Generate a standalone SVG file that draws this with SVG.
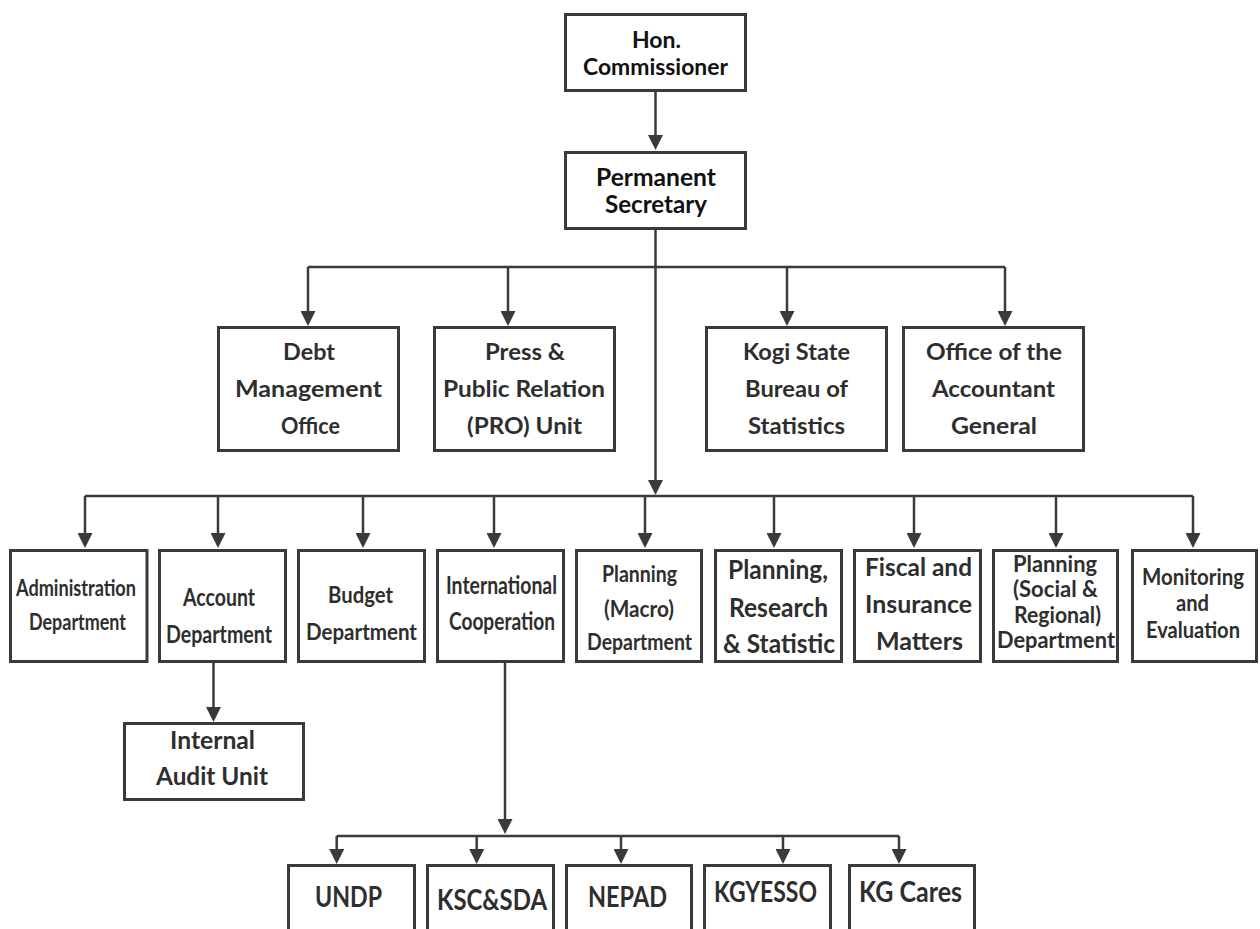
<svg xmlns="http://www.w3.org/2000/svg" width="1260" height="929" viewBox="0 0 1260 929">
<defs>
<marker id="ah" markerUnits="userSpaceOnUse" markerWidth="15" markerHeight="15" refX="10" refY="7.5" orient="auto" viewBox="0 0 15 15">
<path d="M0,0 L15,7.5 L0,15 Z" fill="#3a3a3a"/>
</marker>
<style>
.box{fill:#fff;stroke:#3a3a3a;stroke-width:3}
.ln{fill:none;stroke:#3a3a3a;stroke-width:2.5}
.ar{fill:none;stroke:#3a3a3a;stroke-width:2.5;marker-end:url(#ah)}
text{font-family:Lato,"Open Sans","Liberation Sans",sans-serif;font-weight:700;fill:#2e2e2e;text-anchor:middle}
.top text{fill:#111}
</style>
</defs>
<rect width="1260" height="929" fill="#fff"/>

<g id="connectors">
<path class="ar" d="M655.5,92 V145"/>
<path class="ar" d="M655.5,230 V490"/>
<path class="ln" d="M308,267 H1005"/>
<path class="ar" d="M308,267 V321"/>
<path class="ar" d="M508,267 V321"/>
<path class="ar" d="M787,267 V321"/>
<path class="ar" d="M1005,267 V321"/>
<path class="ln" d="M85,496 H1193"/>
<path class="ar" d="M85,496 V543"/>
<path class="ar" d="M218,496 V543"/>
<path class="ar" d="M363,496 V543"/>
<path class="ar" d="M494,496 V543"/>
<path class="ar" d="M645,496 V543"/>
<path class="ar" d="M774,496 V543"/>
<path class="ar" d="M914,496 V543"/>
<path class="ar" d="M1056,496 V543"/>
<path class="ar" d="M1193,496 V543"/>
<path class="ar" d="M213.5,663 V717"/>
<path class="ar" d="M505,663 V829"/>
<path class="ln" d="M336.7,836 H899"/>
<path class="ar" d="M336.7,836 V859"/>
<path class="ar" d="M476.7,836 V859"/>
<path class="ar" d="M621,836 V859"/>
<path class="ar" d="M783,836 V859"/>
<path class="ar" d="M899,836 V859"/>
</g>

<g id="hon-commissioner" class="top">
<rect class="box" x="565.5" y="14.5" width="180" height="76"/>
<text font-size="23.7" x="656.5" y="47.7" textLength="49" lengthAdjust="spacingAndGlyphs">Hon.</text>
<text font-size="23.7" x="655.5" y="75.3" textLength="145" lengthAdjust="spacingAndGlyphs">Commissioner</text>
</g>

<g id="permanent-secretary" class="top">
<rect class="box" x="565.5" y="152.5" width="180" height="76"/>
<text font-size="24.5" x="656" y="185.7" textLength="120" lengthAdjust="spacingAndGlyphs">Permanent</text>
<text font-size="24.5" x="656" y="213.3" textLength="102" lengthAdjust="spacingAndGlyphs">Secretary</text>
</g>

<g id="debt-management-office">
<rect class="box" x="218.5" y="327.5" width="180" height="123"/>
<text font-size="23.3" x="309" y="360" textLength="52" lengthAdjust="spacingAndGlyphs">Debt</text>
<text font-size="23.3" x="308.5" y="396.7" textLength="147" lengthAdjust="spacingAndGlyphs">Management</text>
<text font-size="23.3" x="310.5" y="434" textLength="59" lengthAdjust="spacingAndGlyphs">Office</text>
</g>

<g id="press-public-relation">
<rect class="box" x="434.5" y="327.5" width="180" height="123"/>
<text font-size="23.3" x="525" y="360" textLength="80" lengthAdjust="spacingAndGlyphs">Press &amp;</text>
<text font-size="23.3" x="524" y="396.7" textLength="162" lengthAdjust="spacingAndGlyphs">Public Relation</text>
<text font-size="23.3" x="524.5" y="434" textLength="115" lengthAdjust="spacingAndGlyphs">(PRO) Unit</text>
</g>

<g id="kogi-bureau-statistics">
<rect class="box" x="706.5" y="327.5" width="180" height="123"/>
<text font-size="23.3" x="796.5" y="360" textLength="107" lengthAdjust="spacingAndGlyphs">Kogi State</text>
<text font-size="23.3" x="796.5" y="396.7" textLength="103" lengthAdjust="spacingAndGlyphs">Bureau of</text>
<text font-size="23.3" x="796.5" y="434" textLength="97" lengthAdjust="spacingAndGlyphs">Statistics</text>
</g>

<g id="office-accountant-general">
<rect class="box" x="903.5" y="327.5" width="180" height="123"/>
<text font-size="23.3" x="994" y="360" textLength="136" lengthAdjust="spacingAndGlyphs">Office of the</text>
<text font-size="23.3" x="993.5" y="396.7" textLength="123" lengthAdjust="spacingAndGlyphs">Accountant</text>
<text font-size="23.3" x="994" y="434" textLength="86" lengthAdjust="spacingAndGlyphs">General</text>
</g>

<g id="administration-department">
<rect class="box" x="10.5" y="550.5" width="136.5" height="111"/>
<text font-size="22.3" x="76" y="596" textLength="120" lengthAdjust="spacingAndGlyphs">Administration</text>
<text font-size="22.3" x="77.5" y="630" textLength="97" lengthAdjust="spacingAndGlyphs">Department</text>
</g>

<g id="account-department">
<rect class="box" x="159.5" y="550.5" width="126" height="111"/>
<text font-size="24" x="219" y="606" textLength="72" lengthAdjust="spacingAndGlyphs">Account</text>
<text font-size="24" x="219" y="642.7" textLength="106" lengthAdjust="spacingAndGlyphs">Department</text>
</g>

<g id="budget-department">
<rect class="box" x="298.5" y="550.5" width="126" height="111"/>
<text font-size="23" x="360.5" y="603" textLength="65" lengthAdjust="spacingAndGlyphs">Budget</text>
<text font-size="23" x="361.5" y="640" textLength="111" lengthAdjust="spacingAndGlyphs">Department</text>
</g>

<g id="international-cooperation">
<rect class="box" x="437.5" y="550.5" width="126" height="111"/>
<text font-size="24" x="501.5" y="594" textLength="111" lengthAdjust="spacingAndGlyphs">International</text>
<text font-size="24" x="502" y="630" textLength="106" lengthAdjust="spacingAndGlyphs">Cooperation</text>
</g>

<g id="planning-macro-department">
<rect class="box" x="576.5" y="550.5" width="125" height="111"/>
<text font-size="23" x="639.5" y="582" textLength="75" lengthAdjust="spacingAndGlyphs">Planning</text>
<text font-size="23" x="639" y="617" textLength="70" lengthAdjust="spacingAndGlyphs">(Macro)</text>
<text font-size="23" x="639.5" y="650" textLength="105" lengthAdjust="spacingAndGlyphs">Department</text>
</g>

<g id="planning-research-statistic">
<rect class="box" x="715.5" y="550.5" width="126" height="111"/>
<text font-size="26" x="778" y="579" textLength="100" lengthAdjust="spacingAndGlyphs">Planning,</text>
<text font-size="26" x="778.5" y="617" textLength="99" lengthAdjust="spacingAndGlyphs">Research</text>
<text font-size="26" x="779" y="653" textLength="112" lengthAdjust="spacingAndGlyphs">&amp; Statistic</text>
</g>

<g id="fiscal-insurance-matters">
<rect class="box" x="854.5" y="550.5" width="126" height="111"/>
<text font-size="25" x="918.5" y="576" textLength="107" lengthAdjust="spacingAndGlyphs">Fiscal and</text>
<text font-size="25" x="918.5" y="613" textLength="107" lengthAdjust="spacingAndGlyphs">Insurance</text>
<text font-size="25" x="919.5" y="650" textLength="87" lengthAdjust="spacingAndGlyphs">Matters</text>
</g>

<g id="planning-social-regional-department">
<rect class="box" x="993.5" y="550.5" width="124" height="111"/>
<text font-size="22" x="1055" y="572" textLength="84" lengthAdjust="spacingAndGlyphs">Planning</text>
<text font-size="22" x="1055.5" y="597" textLength="85" lengthAdjust="spacingAndGlyphs">(Social &amp;</text>
<text font-size="22" x="1057.5" y="623" textLength="87" lengthAdjust="spacingAndGlyphs">Regional)</text>
<text font-size="22" x="1056" y="648" textLength="118" lengthAdjust="spacingAndGlyphs">Department</text>
</g>

<g id="monitoring-evaluation">
<rect class="box" x="1132.5" y="550.5" width="124" height="111"/>
<text font-size="23" x="1193" y="585" textLength="102" lengthAdjust="spacingAndGlyphs">Monitoring</text>
<text font-size="23" x="1192.5" y="611" textLength="33" lengthAdjust="spacingAndGlyphs">and</text>
<text font-size="23" x="1193" y="638" textLength="94" lengthAdjust="spacingAndGlyphs">Evaluation</text>
</g>

<g id="internal-audit-unit">
<rect class="box" x="124.5" y="723.5" width="179" height="76"/>
<text font-size="25.5" x="212.5" y="749" textLength="85" lengthAdjust="spacingAndGlyphs">Internal</text>
<text font-size="25.5" x="212" y="785" textLength="112" lengthAdjust="spacingAndGlyphs">Audit Unit</text>
</g>

<g id="undp">
<rect class="box" x="288.5" y="865.5" width="126" height="80"/>
<text font-size="28" x="348.5" y="907" textLength="67" lengthAdjust="spacingAndGlyphs">UNDP</text>
</g>

<g id="ksc-sda">
<rect class="box" x="427.5" y="865.5" width="126" height="80"/>
<text font-size="28" x="492" y="910" textLength="110" lengthAdjust="spacingAndGlyphs">KSC&amp;SDA</text>
</g>

<g id="nepad">
<rect class="box" x="566.5" y="865.5" width="125" height="80"/>
<text font-size="28" x="627.5" y="907" textLength="79" lengthAdjust="spacingAndGlyphs">NEPAD</text>
</g>

<g id="kgyesso">
<rect class="box" x="704.5" y="865.5" width="126" height="80"/>
<text font-size="28" x="765.5" y="902" textLength="103" lengthAdjust="spacingAndGlyphs">KGYESSO</text>
</g>

<g id="kg-cares">
<rect class="box" x="849.5" y="865.5" width="125" height="80"/>
<text font-size="28" x="910.5" y="902" textLength="103" lengthAdjust="spacingAndGlyphs">KG Cares</text>
</g>
</svg>
